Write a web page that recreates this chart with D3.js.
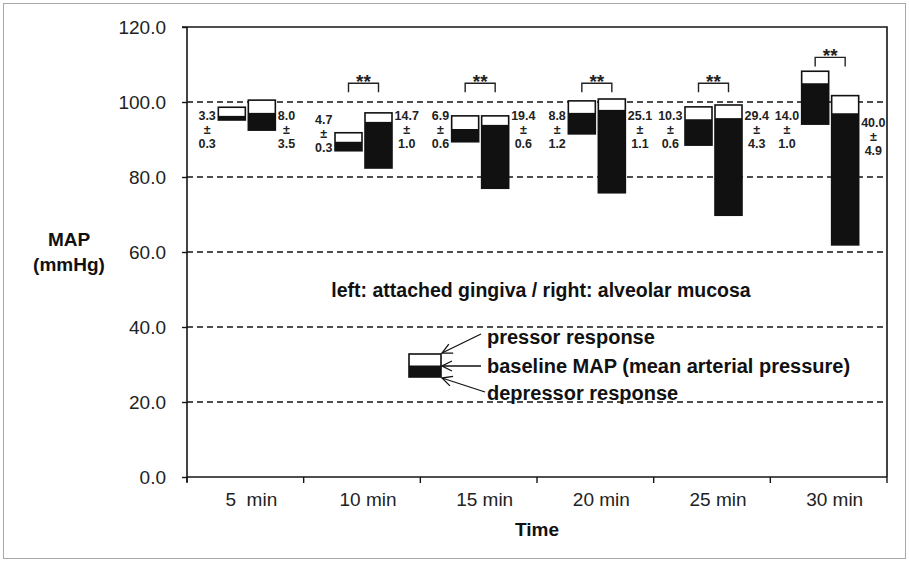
<!DOCTYPE html>
<html>
<head>
<meta charset="utf-8">
<script src="https://cdn.jsdelivr.net/npm/d3@7"></script>
<style>
  body { margin: 0; background: #fff; }
  svg { display: block; font-family: "Liberation Sans", Arial, sans-serif; }
</style>
</head>
<body>
<svg class="graph" width="909" height="562"></svg>
<script>
// ---- data ----
const categories = ["5  min", "10 min", "15 min", "20 min", "25 min", "30 min"];

// left bars: attached gingiva (MAP, mmHg)
const gingivaTop    = [98.6, 91.8, 96.3, 100.3, 98.7, 108.2];
const gingivaBase   = [96.3, 89.4, 92.8, 97.1, 95.4, 105.0];
const gingivaBottom = [95.2, 87.0, 89.4, 91.5, 88.5, 94.1];

// right bars: alveolar mucosa (MAP, mmHg)
const mucosaTop    = [100.5, 97.1, 96.3, 100.8, 99.2, 101.7];
const mucosaBase   = [97.1, 94.7, 93.9, 97.9, 95.7, 97.0];
const mucosaBottom = [92.5, 82.4, 77.0, 75.8, 69.8, 61.9];

// response magnitude, mean ± SE
const gingivaMean = ["3.3", "4.7", "6.9", "8.8", "10.3", "14.0"];
const gingivaSE   = ["0.3", "0.3", "0.6", "1.2", "0.6", "1.0"];
const mucosaMean  = ["8.0", "14.7", "19.4", "25.1", "29.4", "40.0"];
const mucosaSE    = ["3.5", "1.0", "0.6", "1.1", "4.3", "4.9"];

// significance brackets (**) height in mmHg, null = none
const sigLevel = [null, 105, 105, 105, 105, 111.9];

const yTicks = [0, 20, 40, 60, 80, 100, 120];

// ---- layout ----
const W = 909, H = 562;
const plot = { left: 187, right: 887, top: 27, bottom: 477 };
const ink = '#151515';

const svg = d3.select('svg.graph');

// outer frame
svg.append('rect')
    .attr('x', 3.5).attr('y', 3.5)
    .attr('width', W - 7).attr('height', H - 7)
    .attr('fill', 'none').attr('stroke', '#a8a8a8').attr('stroke-width', 1);

const y = d3.scaleLinear().domain([0, 120]).range([plot.bottom, plot.top]);
const x = d3.scaleBand().domain(categories).range([plot.left, plot.right]);
const cx = c => x(c) + x.bandwidth() / 2;
// pair of bars inside each band
const side = d3.scaleBand().domain(['left', 'right']).range([-27, 30]).paddingInner(0.1);

// dashed grid lines
svg.append('g').selectAll('line')
    .data(yTicks.filter(v => v > 0 && v < 120))
    .join('line')
    .attr('x1', plot.left).attr('x2', plot.right)
    .attr('y1', d => y(d)).attr('y2', d => y(d))
    .attr('stroke', ink).attr('stroke-width', 1.4)
    .attr('stroke-dasharray', '6,4');

// top and right frame lines
svg.append('path')
    .attr('d', `M${plot.left - 5},${y(120)}H${plot.right}V${plot.bottom}`)
    .attr('fill', 'none').attr('stroke', ink).attr('stroke-width', 1.6);

// y axis
const yAxis = svg.append('g')
    .attr('transform', `translate(${plot.left},0)`)
    .call(d3.axisLeft(y).tickValues(yTicks).tickFormat(d3.format('.1f')).tickSize(5).tickPadding(16));
yAxis.select('.domain').attr('d', `M0,${y(120)}V${plot.bottom + 5}`).attr('stroke', ink).attr('stroke-width', 1.6);
yAxis.selectAll('.tick line').attr('stroke', ink).attr('stroke-width', 1.4);
yAxis.selectAll('text').attr('font-size', 19).attr('fill', '#222').attr('font-family', null);

// x axis
const xAxis = svg.append('g')
    .attr('transform', `translate(0,${plot.bottom})`)
    .call(d3.axisBottom(x).tickSize(0).tickPadding(16));
xAxis.select('.domain').remove();
xAxis.selectAll('.tick text').attr('font-size', 19).attr('fill', '#222').attr('font-family', null)
    .attr('dx', 6).style('white-space', 'pre');
svg.append('line')
    .attr('x1', plot.left).attr('x2', plot.right)
    .attr('y1', plot.bottom).attr('y2', plot.bottom)
    .attr('stroke', ink).attr('stroke-width', 1.6);
svg.append('g').selectAll('line')
    .data(categories.map(c => x(c)).concat([plot.right]))
    .join('line')
    .attr('x1', d => d).attr('x2', d => d)
    .attr('y1', plot.bottom).attr('y2', plot.bottom + 6)
    .attr('stroke', ink).attr('stroke-width', 1.4);

// axis titles
svg.append('text')
    .attr('x', 69).attr('y', 246)
    .attr('text-anchor', 'middle').attr('font-size', 19).attr('font-weight', 'bold').attr('fill', '#111')
    .text('MAP');
svg.append('text')
    .attr('x', 69).attr('y', 271)
    .attr('text-anchor', 'middle').attr('font-size', 19).attr('font-weight', 'bold').attr('fill', '#111')
    .text('(mmHg)');
svg.append('text')
    .attr('x', (plot.left + plot.right) / 2).attr('y', 536)
    .attr('text-anchor', 'middle').attr('font-size', 19).attr('font-weight', 'bold').attr('fill', '#111')
    .text('Time');

// ---- bars ----
const bars = [];
categories.forEach((c, i) => {
    bars.push({ cat: c, side: 'left', top: gingivaTop[i], base: gingivaBase[i], bottom: gingivaBottom[i],
        mean: gingivaMean[i], se: gingivaSE[i], i });
    bars.push({ cat: c, side: 'right', top: mucosaTop[i], base: mucosaBase[i], bottom: mucosaBottom[i],
        mean: mucosaMean[i], se: mucosaSE[i], i });
});
const bx = d => cx(d.cat) + side(d.side);

const barG = svg.append('g').selectAll('g').data(bars).join('g');
// pressor part (white) covers the grid
barG.append('rect')
    .attr('x', bx).attr('width', side.bandwidth())
    .attr('y', d => y(d.top)).attr('height', d => y(d.bottom) - y(d.top))
    .attr('fill', '#fff');
// depressor part (black)
barG.append('rect')
    .attr('x', bx).attr('width', side.bandwidth())
    .attr('y', d => y(d.base)).attr('height', d => y(d.bottom) - y(d.base))
    .attr('fill', '#111');
// outline
barG.append('rect')
    .attr('x', bx).attr('width', side.bandwidth())
    .attr('y', d => y(d.top)).attr('height', d => y(d.bottom) - y(d.top))
    .attr('fill', 'none').attr('stroke', '#111').attr('stroke-width', 1.6);

// mean ± SE labels
const labelNudge = { 'left-1': 4, 'right-5': 7 };
barG.each(function (d) {
    const g = d3.select(this);
    const t = g.append('text')
        .attr('font-size', 12.5).attr('font-weight', 'bold').attr('fill', '#222')
        .attr('text-anchor', 'middle');
    const lines = [d.mean, '±', d.se];
    const y0 = y(96.5) + (labelNudge[`${d.side}-${d.i}`] || 0);
    lines.forEach((s, k) => t.append('tspan').attr('y', y0 + k * 14.2).attr('dy', '0.35em').text(s));
    const w = t.select('tspan').node().getComputedTextLength();
    const colX = d.side === 'left'
        ? bx(d) - 2.5 - w / 2
        : bx(d) + side.bandwidth() + 2.5 + w / 2;
    t.selectAll('tspan').attr('x', colX);
});

// significance brackets
const sig = categories.map((c, i) => ({ c, lvl: sigLevel[i] })).filter(d => d.lvl != null);
const sigG = svg.append('g').selectAll('g').data(sig).join('g');
sigG.append('path')
    .attr('d', d => {
        const x1 = cx(d.c) + side('left') + side.bandwidth() / 2;
        const x2 = cx(d.c) + side('right') + side.bandwidth() / 2;
        return `M${x1},${y(d.lvl) + 9}V${y(d.lvl)}H${x2}V${y(d.lvl) + 9}`;
    })
    .attr('fill', 'none').attr('stroke', '#222').attr('stroke-width', 1.4);
sigG.append('text')
    .attr('x', d => cx(d.c) + 1.5)
    .attr('y', d => y(d.lvl) + 5)
    .attr('text-anchor', 'middle').attr('font-size', 19).attr('font-weight', 'bold').attr('fill', '#222')
    .text('**');

// centre note
svg.append('text')
    .attr('x', 541).attr('y', 297)
    .attr('text-anchor', 'middle').attr('font-size', 19.5).attr('font-weight', 'bold').attr('fill', '#111')
    .text('left: attached gingiva / right: alveolar mucosa');

// ---- legend ----
svg.append('defs').append('marker')
    .attr('id', 'arrow').attr('viewBox', '-11 -6 12 12')
    .attr('refX', 0).attr('refY', 0)
    .attr('markerWidth', 12).attr('markerHeight', 12)
    .attr('markerUnits', 'userSpaceOnUse').attr('orient', 'auto')
    .append('path').attr('d', 'M-10,-5L0,0L-10,5')
    .attr('fill', 'none').attr('stroke', '#111').attr('stroke-width', 1.3);

const lg = svg.append('g').attr('transform', 'translate(409,354)');
lg.append('rect').attr('x', 0).attr('y', 11.5).attr('width', 32).attr('height', 11.5).attr('fill', '#111');
lg.append('rect').attr('x', 0).attr('y', 0).attr('width', 32).attr('height', 23)
    .attr('fill', 'none').attr('stroke', '#111').attr('stroke-width', 1.6);
const arrows = [
    [72, -20, 33, -1],
    [72, 12, 33, 12],
    [76, 38, 33, 24]
];
lg.selectAll('line.arrow').data(arrows).join('line')
    .attr('class', 'arrow')
    .attr('x1', d => d[0]).attr('y1', d => d[1])
    .attr('x2', d => d[2]).attr('y2', d => d[3])
    .attr('stroke', '#111').attr('stroke-width', 1.3)
    .attr('marker-end', 'url(#arrow)');
const legendText = ['pressor response', 'baseline MAP (mean arterial pressure)', 'depressor response'];
lg.selectAll('text').data(legendText).join('text')
    .attr('x', 78).attr('y', (d, i) => [-17, 12, 38.5][i])
    .attr('dy', '0.35em')
    .attr('font-size', 20).attr('font-weight', 'bold').attr('fill', '#111')
    .text(d => d);
</script>
</body>
</html>
